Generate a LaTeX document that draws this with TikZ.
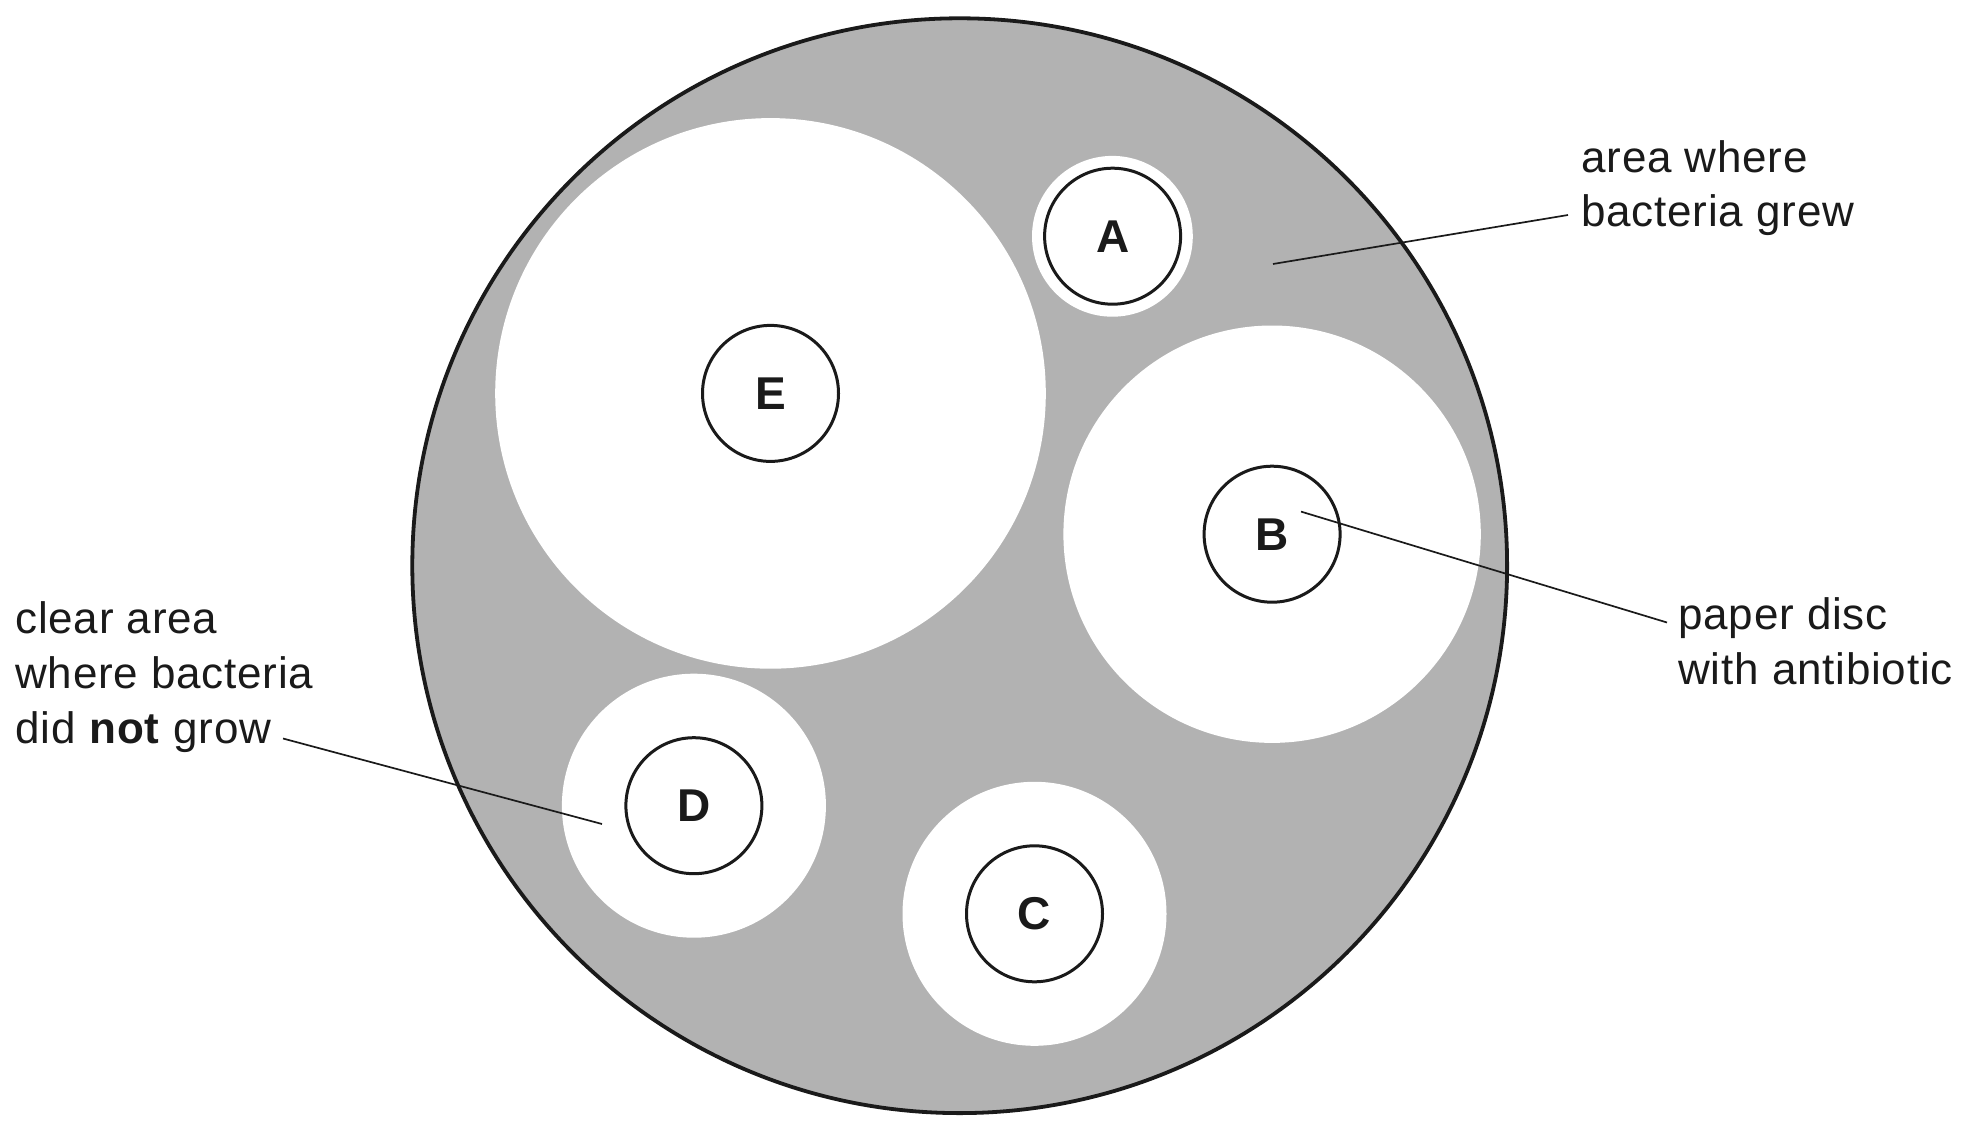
\documentclass[tikz,border=0pt]{standalone}
\usepackage{fontspec}
\setmainfont{Liberation Sans}
\newfontfamily\lblfont[LetterSpace=1.8]{Liberation Sans}
\definecolor{agar}{RGB}{178,178,178}
\definecolor{ink}{RGB}{26,26,26}
\begin{document}
\begin{tikzpicture}[x=0.5pt,y=-0.5pt,
  zone/.style={fill=white,draw=none},
  disc/.style={circle,draw=ink,line width=1.5pt,fill=white,minimum size=68pt,inner sep=0pt,
    text=ink,font=\fontsize{23}{27}\selectfont\bfseries},
  lbl/.style={align=left,inner sep=0pt,text=ink,font=\lblfont\fontsize{22}{27.5}\selectfont},
  leader/.style={draw=ink,line width=0.85pt}]
\useasboundingbox (0,0) rectangle (1971,1129);
% petri dish
\draw[fill=agar,draw=ink,line width=1.9pt] (959.7,565.7) circle[radius=273.7pt];
% clear zones
\fill[zone] (770.5,393.4) circle[radius=137.65pt];
\fill[zone] (1112.4,236.3) circle[radius=40.2pt];
\fill[zone] (1272.1,534.2) circle[radius=104.35pt];
\fill[zone] (693.9,805.7) circle[radius=66pt];
\fill[zone] (1034.5,913.8) circle[radius=66pt];
% paper discs
\node[disc] (E) at (770.5,393.4) {E};
\node[disc] (A) at (1112.6,236.2) {A};
\node[disc] (B) at (1272.1,534.2) {B};
\node[disc] (D) at (693.9,805.7) {D};
\node[disc] (C) at (1034.5,913.8) {C};
% labels (anchored at the baseline of their last line)
\node[lbl,anchor=base west] (grew) at (1581,227) {area where\\bacteria grew};
\node[lbl,anchor=base west] (paper) at (1678,684) {paper disc\\with antibiotic};
\node[lbl,anchor=base west] (clear) at (15,743) {clear area\\where bacteria\\did \textbf{not} grow};
% leader lines
\coordinate (g1) at (1273,264);
\coordinate (g2) at (1568,215);
\coordinate (p1) at (1301,511.6);
\coordinate (p2) at (1667,622.5);
\coordinate (c1) at (283,738.5);
\coordinate (c2) at (602,824);
\draw[leader] (g1) -- (g2);
\draw[leader] (p1) -- (p2);
\draw[leader] (c1) -- (c2);
\end{tikzpicture}
\end{document}
